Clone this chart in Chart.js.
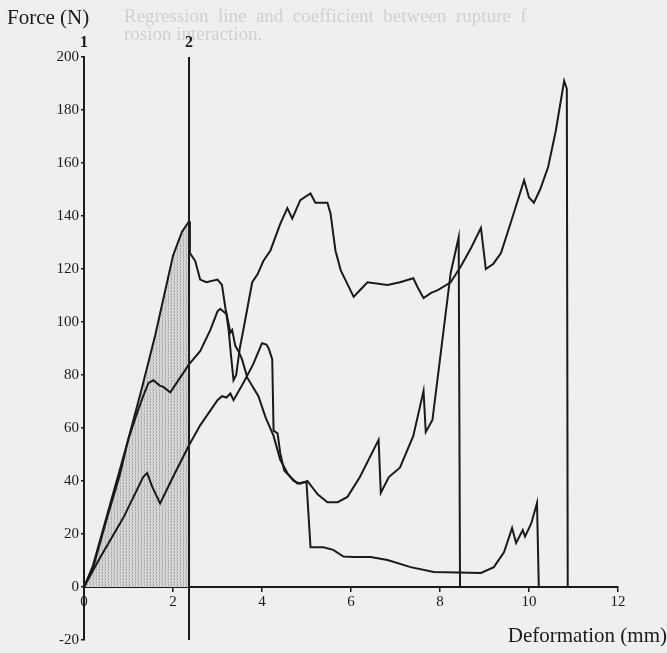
<!DOCTYPE html>
<html>
<head>
<meta charset="utf-8">
<title>Force - deformation</title>
<script src="https://cdn.jsdelivr.net/npm/chart.js@4.4.1/dist/chart.umd.min.js"></script>
<style>
  html, body { margin: 0; padding: 0; background: #efefef; }
  #wrap { width: 667px; height: 653px; position: relative; }
</style>
</head>
<body>
<div id="wrap"><canvas id="chart" width="667" height="653"></canvas></div>
<script>
// deformation (mm), force (N)
const curveA = [
  [0, 0], [0.2, 8], [0.5, 26], [0.8, 44], [1.0, 56], [1.3, 75], [1.6, 95], [1.8, 110],
  [2.0, 125], [2.2, 134], [2.36, 138], [2.38, 126], [2.5, 123], [2.61, 116], [2.75, 115],
  [3.0, 116], [3.1, 114], [3.18, 105], [3.29, 96], [3.33, 97], [3.4, 91], [3.47, 89],
  [3.55, 86], [3.67, 79], [3.92, 72], [4.08, 64], [4.26, 57], [4.41, 48], [4.57, 43],
  [4.71, 40], [4.86, 39], [5.02, 40], [5.25, 35], [5.47, 32], [5.7, 32], [5.92, 34],
  [6.2, 41.5], [6.62, 55.5], [6.67, 35.5], [6.85, 41.5], [7.1, 45], [7.4, 57], [7.63, 74],
  [7.68, 58.5], [7.83, 63], [8.0, 86], [8.24, 118.5], [8.42, 132], [8.45, 0]
];
const curveB = [
  [0, 0], [0.2, 7], [0.5, 25], [0.8, 42], [1.0, 56], [1.2, 66], [1.33, 72], [1.45, 77],
  [1.56, 78], [1.7, 76], [1.78, 75.5], [1.94, 73.5], [2.16, 79], [2.36, 84], [2.61, 89],
  [2.84, 97], [3.0, 104], [3.06, 105], [3.2, 103], [3.25, 97], [3.3, 88], [3.36, 78],
  [3.42, 80], [3.5, 90], [3.58, 97], [3.78, 115], [3.9, 118], [4.03, 123], [4.19, 127],
  [4.41, 137], [4.57, 143], [4.68, 139], [4.86, 146], [5.09, 148.5], [5.2, 145], [5.47, 145],
  [5.54, 141], [5.65, 127], [5.77, 119.5], [6.06, 109.5], [6.2, 112], [6.37, 115], [6.82, 114],
  [7.1, 115], [7.4, 116.5], [7.5, 113], [7.63, 109], [7.8, 111], [7.95, 112], [8.24, 115],
  [8.47, 121], [8.7, 128], [8.92, 135.5], [9.03, 120], [9.2, 122], [9.37, 126], [9.6, 138],
  [9.89, 153.5], [10.0, 147], [10.11, 145], [10.25, 150], [10.43, 158.5], [10.6, 172],
  [10.79, 191], [10.85, 188], [10.87, 0]
];
const curveD = [
  [0, 0], [0.36, 11], [0.88, 26], [1.33, 41.5], [1.42, 43], [1.53, 38], [1.71, 31.5],
  [2.0, 41.5], [2.36, 53.5], [2.61, 61], [3.0, 70.5], [3.1, 72], [3.2, 71.5], [3.29, 73],
  [3.36, 70.5], [3.58, 77], [3.8, 84], [4.0, 92], [4.1, 91.5], [4.15, 90], [4.23, 86],
  [4.26, 59], [4.35, 58], [4.41, 50.5], [4.5, 44], [4.64, 41.5], [4.8, 39], [4.93, 39.5],
  [5.0, 39.5], [5.09, 15], [5.38, 15], [5.6, 14], [5.83, 11.5], [6.06, 11.3], [6.44, 11.3],
  [6.82, 10.2], [7.34, 7.5], [7.86, 5.7], [8.92, 5.3], [9.21, 7.5], [9.44, 13.2], [9.62, 22.3],
  [9.71, 16.6], [9.86, 21.5], [9.91, 19], [10.05, 24], [10.18, 31.7], [10.22, 0]
];
const marker2X = 2.36;
const forceRange = [-20, 200];
const deformRange = [0, 12];

const toXY = arr => arr.map(p => ({ x: p[0], y: p[1] }));

// stippled grey for the shaded area
function stipple(ctx) {
  const c = document.createElement('canvas');
  c.width = 3; c.height = 3;
  const g = c.getContext('2d');
  g.fillStyle = '#d8d8d8';
  g.fillRect(0, 0, 3, 3);
  g.fillStyle = '#a8a8a8';
  g.fillRect(0, 0, 1, 1);
  g.fillRect(0, 2, 1, 1);
  g.fillStyle = '#bebebe';
  g.fillRect(2, 1, 1, 1);
  return ctx.createPattern(c, 'repeat');
}

const serif = '"Liberation Serif", "DejaVu Serif", serif';
const ink = '#1a1a1a';

const annotate = {
  id: 'annotate',
  beforeDraw(chart) {
    const { ctx } = chart;
    ctx.save();
    // faint bleed-through from the other side of the page
    ctx.fillStyle = '#d0d0d0';
    ctx.font = '19px ' + serif;
    ctx.textAlign = 'left';
    ctx.fillText('Regression  line  and  coefficient  between  rupture  f', 124, 22);
    ctx.fillText('rosion interaction.', 124, 40);
    ctx.restore();
  },
  afterDraw(chart) {
    const { ctx, scales: { x, y } } = chart;
    ctx.save();
    ctx.fillStyle = ink;
    ctx.textAlign = 'center';
    ctx.font = 'bold 16px ' + serif;
    ctx.fillText('1', x.getPixelForValue(0), y.top - 10);
    ctx.fillText('2', x.getPixelForValue(marker2X), y.top - 10);
    ctx.font = '21px ' + serif;
    ctx.textAlign = 'left';
    ctx.fillText('Force (N)', 7, 24);
    ctx.textAlign = 'right';
    ctx.fillText('Deformation (mm)', chart.width, chart.height - 11);
    ctx.restore();
  }
};

const ctx = document.getElementById('chart').getContext('2d');
const lineStyle = { borderColor: ink, borderWidth: 2, pointRadius: 0, showLine: true, tension: 0, fill: false };

new Chart(ctx, {
  type: 'scatter',
  data: {
    datasets: [
      { data: toXY(curveA), ...lineStyle, order: 1 },
      { data: toXY(curveB), ...lineStyle, order: 1 },
      { data: toXY(curveD), ...lineStyle, order: 1 },
      { data: [{ x: marker2X, y: forceRange[0] }, { x: marker2X, y: forceRange[1] }], ...lineStyle, order: 1 },
      {
        data: toXY(curveA.filter(p => p[0] <= marker2X)),
        showLine: true, pointRadius: 0, borderWidth: 0,
        backgroundColor: stipple(ctx), fill: 'origin', order: 5
      }
    ]
  },
  options: {
    responsive: false,
    animation: false,
    layout: { padding: { top: 57, right: 49, bottom: 13, left: 0 } },
    plugins: { legend: { display: false }, tooltip: { enabled: false } },
    scales: {
      x: {
        type: 'linear',
        min: deformRange[0], max: deformRange[1],
        position: { y: 0 },
        ticks: { stepSize: 2, color: ink, padding: 2, font: { family: serif, size: 15 }, maxRotation: 0 },
        grid: { drawOnChartArea: false, tickLength: 4, color: ink, lineWidth: 1.5 },
        border: { color: ink, width: 2 }
      },
      y: {
        min: forceRange[0], max: forceRange[1],
        ticks: { stepSize: 20, color: ink, padding: 2, font: { family: serif, size: 15 } },
        grid: { drawOnChartArea: false, tickLength: 3, color: ink, lineWidth: 1.5 },
        border: { color: ink, width: 2 },
        afterFit: s => { s.width = 84; }
      }
    }
  },
  plugins: [annotate]
});
</script>
</body>
</html>
